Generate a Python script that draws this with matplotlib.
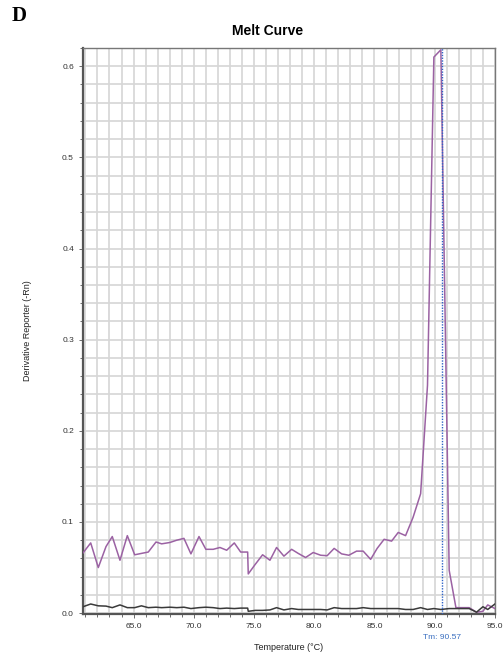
import numpy as np
import matplotlib
matplotlib.use("Agg")
import matplotlib.pyplot as plt
from matplotlib.ticker import MultipleLocator, FormatStrFormatter

plt.rcParams['font.family'] = ['Liberation Sans', 'DejaVu Sans']

# melt curve vertices (temperature in C, derivative reporter -Rn)
temp = [60.8, 61.44, 62.07, 62.71, 63.23, 63.87, 64.48, 65.09, 65.65, 66.22,
        66.86, 67.33, 68.02, 68.58, 69.18, 69.76, 70.43, 71.0, 71.61, 72.17,
        72.73, 73.36, 73.89, 74.47, 74.52, 75.1, 75.71, 76.32, 76.87, 77.48,
        78.12, 78.67, 79.28, 79.91, 80.53, 81.07, 81.65, 82.27, 82.87, 83.51,
        84.06, 84.68, 85.22, 85.8, 86.42, 86.97, 87.58, 88.2, 88.83, 89.4,
        89.93, 90.51, 91.2, 91.76, 92.3, 92.86, 93.47, 94.0, 94.4, 95.0]

sample = [0.066, 0.077, 0.050, 0.073, 0.084, 0.058, 0.085, 0.064, 0.0655, 0.067,
          0.078, 0.076, 0.0775, 0.080, 0.082, 0.065, 0.084, 0.070, 0.070, 0.072,
          0.069, 0.077, 0.067, 0.067, 0.043, 0.0535, 0.064, 0.058, 0.072, 0.0625,
          0.070, 0.0655, 0.061, 0.0665, 0.0635, 0.063, 0.071, 0.065, 0.0635, 0.068,
          0.068, 0.059, 0.071, 0.081, 0.079, 0.0885, 0.085, 0.105, 0.131, 0.25,
          0.610, 0.618, 0.047, 0.006, 0.006, 0.006, 0.001, 0.002, 0.009, 0.005]

ntc = [0.007, 0.010, 0.008, 0.0077, 0.006, 0.009, 0.006, 0.006, 0.008, 0.006,
       0.0065, 0.006, 0.0065, 0.006, 0.0065, 0.005, 0.006, 0.0065, 0.006, 0.005,
       0.0055, 0.005, 0.0055, 0.0055, 0.002, 0.003, 0.003, 0.0035, 0.006, 0.0035,
       0.005, 0.004, 0.004, 0.004, 0.004, 0.0035, 0.006, 0.005, 0.005, 0.005,
       0.006, 0.005, 0.005, 0.005, 0.005, 0.005, 0.004, 0.004, 0.006, 0.004,
       0.005, 0.004, 0.005, 0.005, 0.005, 0.005, 0.001, 0.007, 0.004, 0.010]

tm = 90.57

fig = plt.figure(figsize=(5.03, 6.57), dpi=100)
ax = fig.add_axes([0.165, 0.0654, 0.819, 0.8616])

ax.plot(temp, sample, color='#9b62a3', linewidth=1.1, zorder=3)
ax.plot(temp, ntc, color='#3a3a3a', linewidth=1.1, zorder=3)
ax.axvline(tm, color='#2f64c8', linestyle=(0, (1, 1)), linewidth=1.0, zorder=4)

ax.set_xlim(60.8, 95.0)
ax.set_ylim(-0.001, 0.62)

ax.xaxis.set_major_locator(MultipleLocator(5))
ax.xaxis.set_minor_locator(MultipleLocator(1))
ax.xaxis.set_major_formatter(FormatStrFormatter('%.1f'))
ax.yaxis.set_major_locator(MultipleLocator(0.1))
ax.yaxis.set_minor_locator(MultipleLocator(0.02))
ax.yaxis.set_major_formatter(FormatStrFormatter('%.1f'))

ax.grid(True, which='both', color='#d6d6d6', linewidth=1.2, zorder=0)
ax.set_axisbelow(True)

ax.tick_params(which='both', labelsize=6, colors='#555555', labelcolor='#333333',
               direction='out', length=3, width=0.6)
ax.tick_params(which='minor', length=2)

for side in ['left', 'bottom']:
    ax.spines[side].set_color('#555555')
    ax.spines[side].set_linewidth(1.6)
for side in ['top', 'right']:
    ax.spines[side].set_color('#777777')
    ax.spines[side].set_linewidth(1.0)

ax.set_xlabel('Temperature (°C)', fontsize=6.5, color='#222222', labelpad=9)
ax.set_ylabel('Derivative Reporter (-Rn)', fontsize=6.5, color='#222222', labelpad=22)

ax.text(tm, -0.027, 'Tm: 90.57', color='#3a6fc0', fontsize=6, ha='center', va='center')

fig.text(0.532, 0.953, 'Melt Curve', fontsize=10, fontweight='bold', ha='center', va='center')
fig.text(0.024, 0.975, 'D', fontsize=15, fontweight='bold', family='Liberation Serif',
         ha='left', va='center')

fig.savefig('out.png', dpi=100)
